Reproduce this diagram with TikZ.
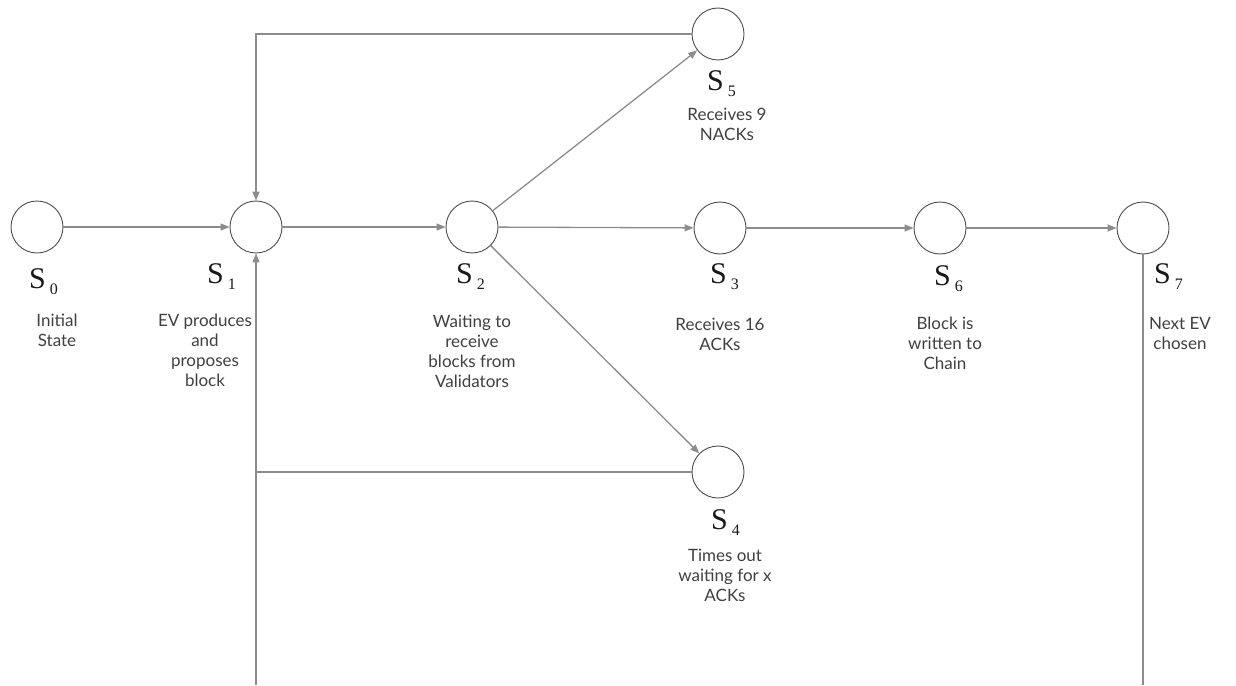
\documentclass[tikz,border=0pt]{standalone}
\usepackage{fontspec}
\setmainfont{Lato}
\newfontfamily\serifS{Liberation Serif}
\usetikzlibrary{arrows.meta}
\newcommand\statelab[1]{S\hspace{4pt}\raisebox{-6pt}{\fontsize{16}{16}\selectfont #1}}
\begin{document}
\begin{tikzpicture}[x=1pt,y=-1pt,
  state/.style={circle, draw=black!70, line width=0.9pt, minimum size=52pt, inner sep=0pt},
  conn/.style={draw=black!45, line width=1.3pt},
  arr/.style={conn, -{Triangle[length=9pt,width=7pt]}},
  slabel/.style={font=\serifS\fontsize{30}{30}\selectfont, text=black!90, inner sep=0pt, anchor=base west},
  desc/.style={font=\fontsize{17}{20}\selectfont, align=center, text=black!75, inner sep=0pt, anchor=north}]
\useasboundingbox (0,0) rectangle (1236,685);
% states
\node[state] (s0) at (37,227) {};
\node[state] (s1) at (256,227) {};
\node[state] (s2) at (472,227) {};
\node[state] (s3) at (720,228) {};
\node[state] (s6) at (940,228) {};
\node[state] (s7) at (1143,228) {};
\node[state] (s5) at (718,34) {};
\node[state] (s4) at (718,472) {};
% state labels
\node[slabel] (l0) at (29,288) {\statelab{0}};
\node[slabel] (l1) at (207,283) {\statelab{1}};
\node[slabel] (l2) at (456,283) {\statelab{2}};
\node[slabel] (l3) at (710,283) {\statelab{3}};
\node[slabel] (l6) at (934,285) {\statelab{6}};
\node[slabel] (l7) at (1154,283) {\statelab{7}};
\node[slabel] (l5) at (707,90) {\statelab{5}};
\node[slabel] (l4) at (711,529) {\statelab{4}};
% descriptions
\node[desc] (d0) at (57,314) {Initial\\State};
\node[desc] (d1) at (205,314) {EV produces\\and\\proposes\\block};
\node[desc] (d2) at (472,315) {Waiting to\\receive\\blocks from\\Validators};
\node[desc] (d3) at (720,318) {Receives 16\\ACKs};
\node[desc] (d6) at (945,317) {Block is\\written to\\Chain};
\node[desc] (d7) at (1180,317) {Next EV\\chosen};
\node[desc] (d5) at (727,108) {Receives 9\\NACKs};
\node[desc] (d4) at (725,549) {Times out\\waiting for x\\ACKs};
% connectors
\coordinate (b1) at (256,685);
\coordinate (j4) at (256,472);
\coordinate (b7) at (1143,685);
\draw[arr] (s0) -- (s1);
\draw[arr] (s1) -- (s2);
\draw[arr] (s2) -- (s3);
\draw[arr] (s3) -- (s6);
\draw[arr] (s6) -- (s7);
\draw[arr] (s2) -- (s5);
\draw[arr] (s2) -- (s4);
\draw[arr] (s5.west) -| (s1.north);
\draw[arr] (b1) -- (s1.south);
\draw[conn] (s4.west) -- (j4);
\draw[conn] (s7.south) -- (b7);
\end{tikzpicture}
\end{document}
